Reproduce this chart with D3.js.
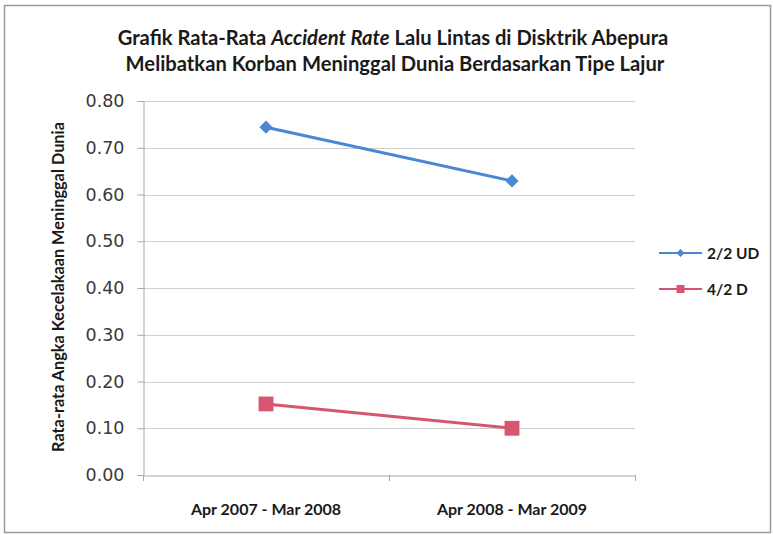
<!DOCTYPE html>
<html>
<head>
<meta charset="utf-8">
<script src="https://cdn.jsdelivr.net/npm/d3@7"></script>
<style>
  html, body { margin: 0; padding: 0; background: #fff; }
  svg { display: block; }
</style>
</head>
<body>
<svg id="chart" width="773" height="535"></svg>
<script>
// Periods on the x axis
const periods = ["Apr 2007 - Mar 2008", "Apr 2008 - Mar 2009"];
// Average fatal accident rate per lane type
const series22UD = [0.744, 0.629];
const series42D = [0.152, 0.100];
const seriesNames = ["2/2 UD", "4/2 D"];
const yTicks = [0, 0.1, 0.2, 0.3, 0.4, 0.5, 0.6, 0.7, 0.8];

const series = [
  { name: seriesNames[0], values: series22UD, color: "#4a86d6", marker: "diamond" },
  { name: seriesNames[1], values: series42D, color: "#d6566f", marker: "square" }
];

const svg = d3.select("#chart");
const W = 773, H = 535;
const plot = { left: 143, right: 635, top: 101, bottom: 475 };

// Outer frame
svg.append("rect")
  .attr("x", 4.5).attr("y", 5.5)
  .attr("width", W - 7).attr("height", H - 8)
  .attr("fill", "#fff").attr("stroke", "#9a9a9a").attr("stroke-width", 1.5);

const x = d3.scaleBand().domain(periods).range([plot.left, plot.right]);
const y = d3.scaleLinear().domain([0, 0.8]).range([plot.bottom, plot.top]);

// Gridlines
svg.append("g")
  .selectAll("line")
  .data(yTicks.slice(1))
  .join("line")
  .attr("x1", plot.left).attr("x2", plot.right)
  .attr("y1", d => Math.round(y(d)) + 0.5).attr("y2", d => Math.round(y(d)) + 0.5)
  .attr("stroke", "#cfcfcf").attr("stroke-width", 1);

// Y axis
const yAxis = svg.append("g")
  .attr("transform", `translate(${plot.left + 0.5},0)`)
  .call(d3.axisLeft(y).tickValues(yTicks).tickFormat(d3.format(".2f")).tickSize(6).tickPadding(13));
yAxis.select(".domain").attr("stroke", "#a8a8a8");
yAxis.selectAll(".tick line").attr("stroke", "#a8a8a8");
yAxis.selectAll(".tick text")
  .attr("font-family", "'DejaVu Sans', sans-serif")
  .attr("font-size", 17.5)
  .attr("fill", "#3a3a3a");

// X axis
const xAxis = svg.append("g")
  .attr("transform", `translate(0,${Math.round(plot.bottom) + 0.5})`)
  .call(d3.axisBottom(x).tickSize(0).tickPadding(28));
xAxis.select(".domain").attr("stroke", "#a8a8a8");
xAxis.selectAll(".tick text")
  .attr("font-family", "Lato, sans-serif")
  .attr("font-weight", "bold")
  .attr("font-size", 16)
  .attr("fill", "#1a1a1a");
// Category boundary ticks
svg.append("g")
  .selectAll("line")
  .data([0, 1, 2])
  .join("line")
  .attr("x1", i => Math.round(plot.left + i * x.step()) + 0.5)
  .attr("x2", i => Math.round(plot.left + i * x.step()) + 0.5)
  .attr("y1", plot.bottom).attr("y2", plot.bottom + 6)
  .attr("stroke", "#a8a8a8");

// Lines and markers
const cx = i => x(periods[i]) + x.bandwidth() / 2;
const line = d3.line().x((d, i) => cx(i)).y(d => y(d));

series.forEach(s => {
  svg.append("path")
    .datum(s.values)
    .attr("d", line)
    .attr("fill", "none")
    .attr("stroke", s.color)
    .attr("stroke-width", 3)
    .attr("stroke-linecap", "round");
  const sym = s.marker === "diamond"
    ? d3.symbol().type(d3.symbolDiamond2).size(110)
    : d3.symbol().type(d3.symbolSquare).size(220);
  svg.append("g")
    .selectAll("path")
    .data(s.values)
    .join("path")
    .attr("transform", (d, i) => `translate(${cx(i)},${y(d)})`)
    .attr("d", sym)
    .attr("fill", s.color);
});

// Title
const title = svg.append("text")
  .attr("text-anchor", "middle")
  .attr("font-family", "Lato, sans-serif")
  .attr("font-weight", "bold")
  .attr("font-size", 20.2)
  .attr("fill", "#1a1a1a");
const t1 = title.append("tspan").attr("x", 393).attr("y", 45);
t1.append("tspan").text("Grafik Rata-Rata ");
t1.append("tspan").attr("font-style", "italic").text("Accident Rate");
t1.append("tspan").text(" Lalu Lintas di Disktrik Abepura");
title.append("tspan").attr("x", 395).attr("y", 71)
  .text("Melibatkan Korban Meninggal Dunia Berdasarkan Tipe Lajur");

// Y axis title
svg.append("text")
  .attr("transform", `translate(64,287) rotate(-90)`)
  .attr("text-anchor", "middle")
  .attr("font-family", "Lato, sans-serif")
  .attr("font-weight", "bold")
  .attr("font-size", 16.3)
  .attr("fill", "#1a1a1a")
  .text("Rata-rata Angka Kecelakaan Meninggal Dunia");

// Legend
const legend = svg.append("g");
series.forEach((s, i) => {
  const ly = 253 + i * 36;
  legend.append("line")
    .attr("x1", 659).attr("x2", 702).attr("y1", ly).attr("y2", ly)
    .attr("stroke", s.color).attr("stroke-width", 2);
  legend.append("path")
    .attr("transform", `translate(680.5,${ly})`)
    .attr("d", s.marker === "diamond"
      ? d3.symbol().type(d3.symbolDiamond2).size(40)()
      : d3.symbol().type(d3.symbolSquare).size(64)())
    .attr("fill", s.color);
  legend.append("text")
    .attr("x", 707).attr("y", ly + 5.5)
    .attr("font-family", "Lato, sans-serif")
    .attr("font-weight", "bold")
    .attr("font-size", 15.5)
    .attr("fill", "#1a1a1a")
    .text(s.name);
});
</script>
</body>
</html>
